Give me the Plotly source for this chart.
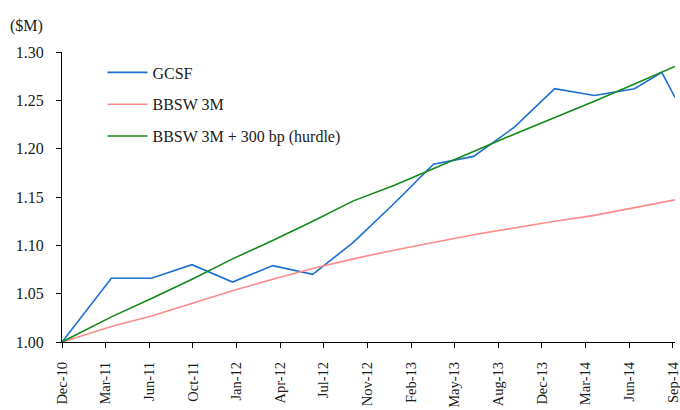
import plotly.graph_objects as go
import pandas as pd

# Dates of observations (start, then quarter ends, Aug-14, Sep-14)
dates = ["2010-12-09", "2011-03-31", "2011-06-30", "2011-09-30", "2011-12-31",
         "2012-03-31", "2012-06-30", "2012-09-30", "2012-12-31", "2013-03-31",
         "2013-06-30", "2013-09-30", "2013-12-31", "2014-03-31", "2014-06-30",
         "2014-08-31", "2014-09-30"]

gcsf = [1.000, 1.066, 1.066, 1.080, 1.062, 1.079, 1.070, 1.103, 1.143, 1.184,
        1.192, 1.222, 1.262, 1.255, 1.262, 1.279, 1.253]
bbsw = [1.000, 1.016, 1.027, 1.040, 1.053, 1.065, 1.076, 1.086, 1.095, 1.103,
        1.111, 1.118, 1.125, 1.131, 1.139, 1.145, 1.147]
hurdle = [1.000, 1.026, 1.045, 1.065, 1.086, 1.105, 1.125, 1.146, 1.162, 1.179,
          1.197, 1.215, 1.232, 1.249, 1.267, 1.279, 1.285]

tick_labels = ["Dec-10", "Mar-11", "Jun-11", "Oct-11", "Jan-12", "Apr-12", "Jul-12",
               "Nov-12", "Feb-13", "May-13", "Aug-13", "Dec-13", "Mar-14", "Jun-14", "Sep-14"]
y_ticks = [1.00, 1.05, 1.10, 1.15, 1.20, 1.25, 1.30]

tick_dates = pd.date_range(dates[0], periods=len(tick_labels), freq="99D")

FONT = "Liberation Serif"
TXT = "#1a1a1a"
fig = go.Figure()
series = [("GCSF", gcsf, "#1a6fd0"), ("BBSW 3M", bbsw, "#ff8a8a"),
          ("BBSW 3M + 300 bp (hurdle)", hurdle, "#14891a")]
for i, (name, vals, col) in enumerate(series):
    fig.add_trace(go.Scatter(x=pd.to_datetime(dates), y=vals, mode="lines", name=name,
                             legendgroup=str(i),
                             line=dict(color=col, width=1.6)))

fig.update_layout(
    width=680, height=410,
    margin=dict(l=62, r=5, t=52, b=68),
    paper_bgcolor="white", plot_bgcolor="white",
    font=dict(family=FONT, size=16, color=TXT),
    showlegend=True,
    legend=dict(x=0.066, y=0.988, xanchor="left", yanchor="top",
                bgcolor="rgba(0,0,0,0)", tracegroupgap=8,
                font=dict(family=FONT, size=16, color=TXT),
                itemwidth=40),
    xaxis=dict(type="date", range=[dates[0], dates[-1]],
               tickmode="array", tickvals=tick_dates, ticktext=tick_labels,
               tickangle=-90, ticks="outside", ticklen=5, tickcolor="#000",
               ticklabelstandoff=8, automargin=False, ticklabeloverflow="allow",
               tickfont=dict(family=FONT, size=14.5, color=TXT),
               showline=True, linecolor="#000", linewidth=1.3,
               showgrid=False, zeroline=False),
    yaxis=dict(range=[1.0, 1.3], tickmode="array", tickvals=y_ticks,
               ticktext=[f"{v:.2f}" for v in y_ticks],
               ticks="outside", ticklen=5, tickcolor="#000",
               ticklabelstandoff=9, automargin=False,
               tickfont=dict(family=FONT, size=16, color=TXT),
               showline=True, linecolor="#000", linewidth=1.3,
               showgrid=False, zeroline=False),
    annotations=[dict(text="($M)", xref="paper", yref="paper", x=-0.088, y=1.09,
                      xanchor="left", yanchor="middle", showarrow=False,
                      font=dict(family=FONT, size=16, color=TXT))],
)

fig.write_html("out.html", config={"displayModeBar": False})

# remove the default page margin so the figure sits at the window origin
with open("out.html", encoding="utf-8") as f:
    html = f.read()
html = html.replace("<head>", "<head><style>html,body{margin:0;padding:0;overflow:hidden;}</style>", 1)
with open("out.html", "w", encoding="utf-8") as f:
    f.write(html)
